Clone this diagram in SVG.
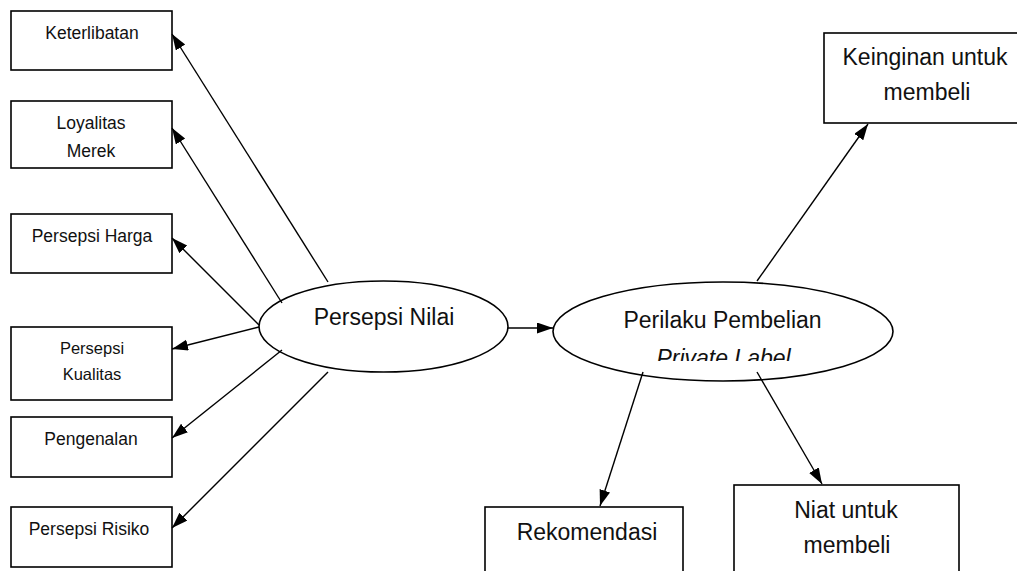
<svg xmlns="http://www.w3.org/2000/svg" width="1017" height="571" viewBox="0 0 1017 571">
<style>
.box{fill:#fff;stroke:#000;stroke-width:1.6}
.ell{fill:#fff;stroke:#000;stroke-width:1.6}
.t{font-family:"Liberation Sans",Arial,sans-serif;fill:#111;text-anchor:middle}
.s{font-size:17.5px}
.b{font-size:23px}
.c line{stroke:#000;stroke-width:1.4;marker-end:url(#ah)}
</style>
<defs>
<marker id="ah" markerUnits="userSpaceOnUse" markerWidth="17" markerHeight="12" refX="16" refY="5.5" orient="auto">
<path d="M0,0 L16,5.5 L0,11 Z" fill="#000"/>
</marker>
<clipPath id="clipPL"><rect x="600" y="330" width="260" height="31"/></clipPath>
</defs>
<rect width="1017" height="571" fill="#fff"/>
<g id="n-keterlibatan"><rect class="box" x="11" y="11" width="161" height="59"/><text class="t s" x="92" y="39">Keterlibatan</text></g>
<g id="n-loyalitas"><rect class="box" x="11" y="101" width="161" height="67"/><text class="t s" x="91" y="129">Loyalitas</text><text class="t s" x="91" y="157">Merek</text></g>
<g id="n-harga"><rect class="box" x="11" y="214" width="161" height="59"/><text class="t s" x="92" y="242">Persepsi Harga</text></g>
<g id="n-kualitas"><rect class="box" x="11" y="327" width="161" height="73"/><text class="t" style="font-size:16.5px" x="92" y="354">Persepsi</text><text class="t" style="font-size:16.5px" x="92" y="380">Kualitas</text></g>
<g id="n-pengenalan"><rect class="box" x="11" y="417" width="161" height="60"/><text class="t s" x="91" y="445">Pengenalan</text></g>
<g id="n-risiko"><rect class="box" x="11" y="507" width="161" height="60"/><text class="t s" x="89" y="535">Persepsi Risiko</text></g>
<g id="n-nilai"><ellipse class="ell" cx="383.5" cy="326.5" rx="124.5" ry="45.5"/><text class="t b" x="384" y="325">Persepsi Nilai</text></g>
<g id="n-perilaku"><ellipse class="ell" cx="723" cy="331.5" rx="170" ry="49.5"/><text class="t b" x="722.5" y="328">Perilaku Pembelian</text><text class="t b" x="723.5" y="366" font-style="italic" clip-path="url(#clipPL)">Private Label</text></g>
<g id="n-keinginan"><rect class="box" x="824" y="33" width="210" height="90"/><text class="t b" x="925" y="65">Keinginan untuk</text><text class="t b" x="927" y="100">membeli</text></g>
<g id="n-rekomendasi"><rect class="box" x="485" y="507" width="198" height="80"/><text class="t b" x="587" y="540">Rekomendasi</text></g>
<g id="n-niat"><rect class="box" x="734" y="485" width="225" height="100"/><text class="t b" x="846" y="518">Niat untuk</text><text class="t b" x="847" y="553">membeli</text></g>
<g id="connectors" class="c">
<line x1="328" y1="282" x2="172" y2="34"/>
<line x1="282" y1="303" x2="172" y2="128"/>
<line x1="259" y1="325" x2="172" y2="238"/>
<line x1="259" y1="327" x2="172" y2="349"/>
<line x1="282" y1="350" x2="172" y2="438"/>
<line x1="328" y1="372" x2="172" y2="528"/>
<line x1="508" y1="328" x2="553" y2="328"/>
<line x1="757" y1="281" x2="868" y2="124"/>
<line x1="643" y1="372" x2="600" y2="506"/>
<line x1="757" y1="372" x2="822" y2="484"/>
</g>
</svg>
